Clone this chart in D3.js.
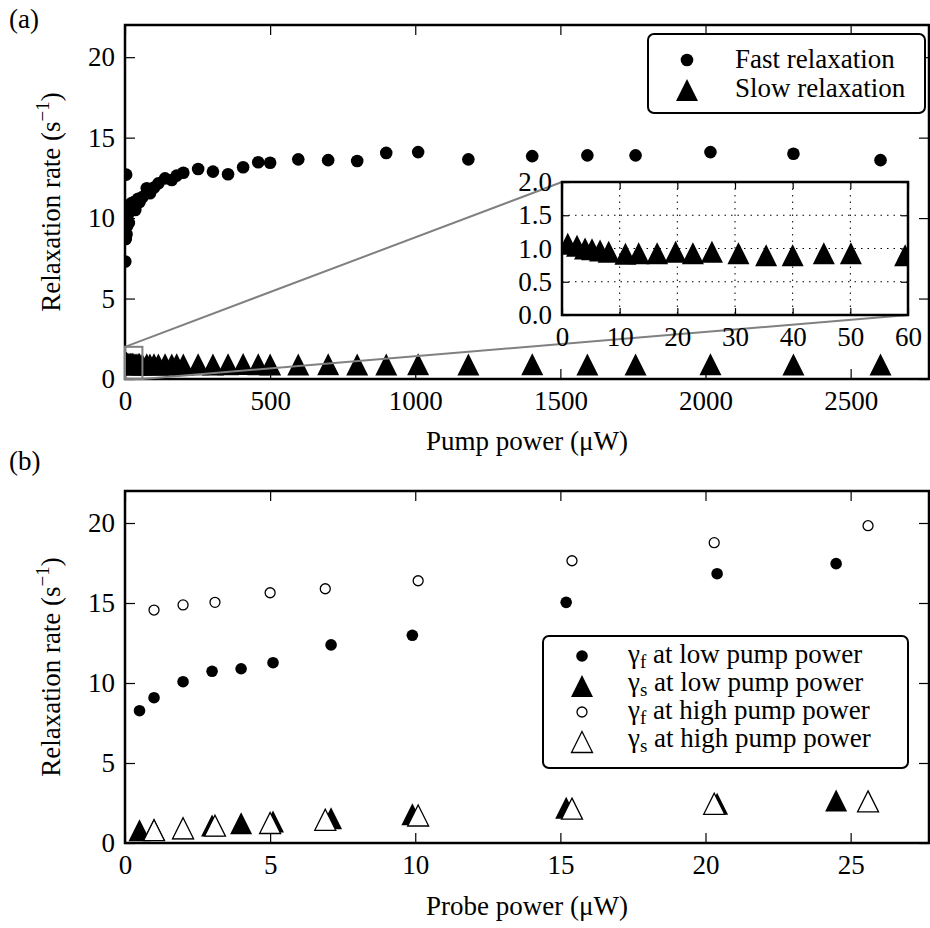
<!DOCTYPE html>
<html lang="en">
<head>
  <meta charset="UTF-8">
  <title>Relaxation rates</title>
  <script src="https://d3js.org/d3.v7.min.js"></script>
  <style>
    body { margin: 0; padding: 0; background: #fff; }
    text { font-family: "Liberation Serif", "DejaVu Serif", "Noto Serif", serif; fill: #000; }
  </style>
</head>
<body>
  <div id="chart"></div>
  <script>
    // (a) pump power sweep
    const pumpPower = [1, 2.6, 4, 5.2, 6.6, 8.1, 11, 13.3, 16.5, 19.7, 22.7, 26, 30.6, 35.4, 40, 45.4, 50.1, 59.5,
      75, 86, 100, 115, 138, 161, 178, 201, 252, 303, 355, 407, 459, 500, 597, 700, 800, 900, 1010, 1183,
      1403, 1593, 1759, 2017, 2303, 2603];
    const fastRate = [7.3, 8.7, 12.7, 9.0, 9.5, 10.1, 10.3, 9.7, 10.5, 10.9, 10.6, 10.8, 11.0, 10.5, 11.0, 11.2, 11.0, 11.3,
      11.85, 11.54, 11.9, 12.16, 12.47, 12.37, 12.64, 12.82, 13.05, 12.89, 12.72, 13.16, 13.47, 13.44, 13.65, 13.6, 13.55, 14.05, 14.1, 13.65,
      13.85, 13.9, 13.9, 14.1, 14.0, 13.6];
    const slowRate = [1.07, 1.04, 1.0, 0.99, 0.97, 0.95, 0.92, 0.93, 0.93, 0.95, 0.93, 0.95, 0.93, 0.9, 0.9, 0.93, 0.93, 0.9,
      0.92, 0.9, 0.92, 0.9, 0.92, 0.9, 0.92, 0.9, 0.92, 0.9, 0.92, 0.93, 0.92, 0.9, 0.9, 0.92, 0.9, 0.9, 0.92, 0.9,
      0.92, 0.9, 0.9, 0.92, 0.9, 0.9];

    // (b) probe power sweep
    const probeLow = [0.5, 1.0, 2.0, 3.0, 4.0, 5.1, 7.1, 9.9, 15.2, 20.4, 24.5];
    const fastLow = [8.27, 9.08, 10.08, 10.73, 10.89, 11.27, 12.38, 12.98, 15.04, 16.83, 17.46];
    const slowLow = [0.8, 0.85, 0.92, 1.1, 1.23, 1.35, 1.55, 1.8, 2.2, 2.45, 2.65];
    const probeHigh = [1.0, 2.0, 3.1, 5.0, 6.9, 10.1, 15.4, 20.3, 25.6];
    const fastHigh = [14.56, 14.88, 15.04, 15.64, 15.89, 16.39, 17.64, 18.77, 19.83];
    const slowHigh = [0.8, 0.92, 1.08, 1.25, 1.45, 1.72, 2.15, 2.45, 2.6];

    const pumpTicks = [0, 500, 1000, 1500, 2000, 2500];
    const probeTicks = [0, 5, 10, 15, 20, 25];
    const rateTicks = [0, 5, 10, 15, 20];
    const insetXTicks = [0, 10, 20, 30, 40, 50, 60];
    const insetYTicks = [0, 0.5, 1.0, 1.5, 2.0];

    const FS = 27;
    const svg = d3.select("#chart").append("svg")
      .attr("width", 930)
      .attr("height", 928);
    svg.append("rect").attr("width", 930).attr("height", 928).attr("fill", "#fff");

    const pA = { l: 125, r: 929, t: 25, b: 379 };
    const pB = { l: 125, r: 929, t: 491, b: 843 };
    const pI = { l: 562, r: 908, t: 182, b: 315 };

    const xA = d3.scaleLinear().domain([0, 2770]).range([pA.l, pA.r]);
    const yA = d3.scaleLinear().domain([0, 22]).range([pA.b, pA.t]);
    const xB = d3.scaleLinear().domain([0, 27.7]).range([pB.l, pB.r]);
    const yB = d3.scaleLinear().domain([0, 22]).range([pB.b, pB.t]);
    const xI = d3.scaleLinear().domain([0, 60]).range([pI.l, pI.r]);
    const yI = d3.scaleLinear().domain([0, 2]).range([pI.b, pI.t]);

    // matplotlib-style '^' marker
    const tri = s => `M0,${-s / 2}L${s / 2},${s / 2}L${-s / 2},${s / 2}Z`;

    function clip(id, p) {
      svg.append("clipPath").attr("id", id).append("rect")
        .attr("x", p.l).attr("y", p.t).attr("width", p.r - p.l).attr("height", p.b - p.t);
    }
    clip("clipA", pA); clip("clipB", pB); clip("clipI", pI);

    function drawAxes(p, x, y, xt, yt, xfmt, yfmt, tick) {
      const g = svg.append("g");
      const style = sel => {
        sel.select(".domain").remove();
        sel.selectAll("line").attr("stroke", "#000").attr("stroke-width", 1.2);
        sel.selectAll("text").attr("font-size", FS);
      };
      g.append("g").attr("transform", `translate(0,${p.b})`)
        .call(d3.axisBottom(x).tickValues(xt).tickSizeInner(-tick).tickSizeOuter(0).tickPadding(12).tickFormat(xfmt))
        .call(style);
      g.append("g").attr("transform", `translate(0,${p.t})`)
        .call(d3.axisTop(x).tickValues(xt).tickSizeInner(-tick).tickSizeOuter(0).tickFormat(""))
        .call(style);
      g.append("g").attr("transform", `translate(${p.l},0)`)
        .call(d3.axisLeft(y).tickValues(yt).tickSizeInner(-tick).tickSizeOuter(0).tickPadding(10).tickFormat(yfmt))
        .call(style);
      g.append("g").attr("transform", `translate(${p.r},0)`)
        .call(d3.axisRight(y).tickValues(yt).tickSizeInner(-tick).tickSizeOuter(0).tickFormat(""))
        .call(style);
      g.append("rect")
        .attr("x", p.l).attr("y", p.t).attr("width", p.r - p.l).attr("height", p.b - p.t)
        .attr("fill", "none").attr("stroke", "#000").attr("stroke-width", 2.5);
      return g;
    }

    function rateLabel(cx, cy) {
      const t = svg.append("text")
        .attr("transform", `translate(${cx},${cy}) rotate(-90)`)
        .attr("text-anchor", "middle")
        .attr("font-size", FS);
      t.append("tspan").text("Relaxation rate (s");
      t.append("tspan").attr("font-size", 19).attr("dy", -11).text("\u22121");
      t.append("tspan").attr("dy", 11).text(")");
    }

    // ---------- panel (a) ----------
    const dataA = svg.append("g").attr("clip-path", "url(#clipA)");
    dataA.selectAll(".fast").data(pumpPower).enter().append("circle")
      .attr("cx", d => xA(d))
      .attr("cy", (d, i) => yA(fastRate[i]))
      .attr("r", 6.3)
      .attr("fill", "#000");
    dataA.selectAll(".slow").data(pumpPower).enter().append("path")
      .attr("d", tri(22))
      .attr("transform", (d, i) => `translate(${xA(d)},${yA(slowRate[i])})`)
      .attr("fill", "#000");

    drawAxes(pA, xA, yA, pumpTicks, rateTicks, d3.format("d"), d3.format("d"), 10);

    // zoom box + connectors
    svg.append("rect")
      .attr("x", xA(0)).attr("y", yA(2))
      .attr("width", xA(60) - xA(0)).attr("height", yA(0) - yA(2))
      .attr("fill", "none").attr("stroke", "#808080").attr("stroke-width", 2);
    svg.append("line")
      .attr("x1", xA(0)).attr("y1", yA(2)).attr("x2", pI.l).attr("y2", pI.t)
      .attr("stroke", "#808080").attr("stroke-width", 2);
    svg.append("line")
      .attr("x1", xA(60)).attr("y1", yA(0)).attr("x2", pI.r).attr("y2", pI.b)
      .attr("stroke", "#808080").attr("stroke-width", 2);

    // inset
    svg.append("rect")
      .attr("x", pI.l).attr("y", pI.t).attr("width", pI.r - pI.l).attr("height", pI.b - pI.t)
      .attr("fill", "#fff");
    const grid = svg.append("g");
    grid.selectAll(".gx").data(insetXTicks.slice(1, -1)).enter().append("line")
      .attr("x1", d => xI(d)).attr("x2", d => xI(d)).attr("y1", pI.t).attr("y2", pI.b)
      .attr("stroke", "#000").attr("stroke-width", 1).attr("stroke-dasharray", "1.5,5");
    grid.selectAll(".gy").data(insetYTicks.slice(1, -1)).enter().append("line")
      .attr("y1", d => yI(d)).attr("y2", d => yI(d)).attr("x1", pI.l).attr("x2", pI.r)
      .attr("stroke", "#000").attr("stroke-width", 1).attr("stroke-dasharray", "1.5,5");
    const dataI = svg.append("g").attr("clip-path", "url(#clipI)");
    dataI.selectAll(".slowI").data(pumpPower).enter().append("path")
      .attr("d", tri(22))
      .attr("transform", (d, i) => `translate(${xI(d)},${yI(slowRate[i])})`)
      .attr("fill", "#000");
    drawAxes(pI, xI, yI, insetXTicks, insetYTicks, d3.format("d"), d3.format(".1f"), 7);

    // legend (a)
    const legA = svg.append("g");
    legA.append("rect").attr("x", 648).attr("y", 34).attr("width", 277).attr("height", 79)
      .attr("rx", 6).attr("fill", "#fff").attr("stroke", "#000").attr("stroke-width", 2);
    legA.append("circle").attr("cx", 687).attr("cy", 60).attr("r", 6.3).attr("fill", "#000");
    legA.append("path").attr("d", tri(22)).attr("transform", "translate(687,90)").attr("fill", "#000");
    legA.append("text").attr("x", 735).attr("y", 68).attr("font-size", FS).text("Fast relaxation");
    legA.append("text").attr("x", 735).attr("y", 97).attr("font-size", FS).text("Slow relaxation");

    svg.append("text").attr("x", 9).attr("y", 28).attr("font-size", FS).text("(a)");
    rateLabel(60, (pA.t + pA.b) / 2);
    svg.append("text").attr("x", (pA.l + pA.r) / 2).attr("y", 450)
      .attr("text-anchor", "middle").attr("font-size", FS).text("Pump power (\u03bcW)");

    // ---------- panel (b) ----------
    const dataB = svg.append("g").attr("clip-path", "url(#clipB)");
    dataB.selectAll(".fl").data(probeLow).enter().append("circle")
      .attr("cx", d => xB(d)).attr("cy", (d, i) => yB(fastLow[i]))
      .attr("r", 5.8).attr("fill", "#000");
    dataB.selectAll(".sl").data(probeLow).enter().append("path")
      .attr("d", tri(22))
      .attr("transform", (d, i) => `translate(${xB(d)},${yB(slowLow[i])})`)
      .attr("fill", "#000");
    dataB.selectAll(".fh").data(probeHigh).enter().append("circle")
      .attr("cx", d => xB(d)).attr("cy", (d, i) => yB(fastHigh[i]))
      .attr("r", 5).attr("fill", "#fff").attr("stroke", "#000").attr("stroke-width", 1.3);
    dataB.selectAll(".sh").data(probeHigh).enter().append("path")
      .attr("d", tri(21))
      .attr("transform", (d, i) => `translate(${xB(d)},${yB(slowHigh[i])})`)
      .attr("fill", "#fff").attr("stroke", "#000").attr("stroke-width", 1.3);

    drawAxes(pB, xB, yB, probeTicks, rateTicks, d3.format("d"), d3.format("d"), 10);

    // legend (b)
    const legB = svg.append("g");
    legB.append("rect").attr("x", 543).attr("y", 636).attr("width", 365).attr("height", 132)
      .attr("rx", 6).attr("fill", "#fff").attr("stroke", "#000").attr("stroke-width", 2);
    const rows = [
      { sub: "f", txt: " at low pump power", y: 656 },
      { sub: "s", txt: " at low pump power", y: 684 },
      { sub: "f", txt: " at high pump power", y: 712 },
      { sub: "s", txt: " at high pump power", y: 740 }
    ];
    legB.append("circle").attr("cx", 582).attr("cy", rows[0].y).attr("r", 5.8).attr("fill", "#000");
    legB.append("path").attr("d", tri(22)).attr("transform", `translate(582,${rows[1].y + 2})`).attr("fill", "#000");
    legB.append("circle").attr("cx", 582).attr("cy", rows[2].y).attr("r", 5)
      .attr("fill", "#fff").attr("stroke", "#000").attr("stroke-width", 1.3);
    legB.append("path").attr("d", tri(21)).attr("transform", `translate(582,${rows[3].y + 2})`)
      .attr("fill", "#fff").attr("stroke", "#000").attr("stroke-width", 1.3);
    rows.forEach(r => {
      const t = legB.append("text").attr("x", 628).attr("y", r.y + 7).attr("font-size", FS);
      t.append("tspan").text("\u03b3");
      t.append("tspan").attr("font-size", 19).attr("dy", 5).text(r.sub);
      t.append("tspan").attr("dy", -5).text(r.txt);
    });

    svg.append("text").attr("x", 9).attr("y", 470).attr("font-size", FS).text("(b)");
    rateLabel(60, (pB.t + pB.b) / 2);
    svg.append("text").attr("x", (pB.l + pB.r) / 2).attr("y", 915)
      .attr("text-anchor", "middle").attr("font-size", FS).text("Probe power (\u03bcW)");
  </script>
</body>
</html>
